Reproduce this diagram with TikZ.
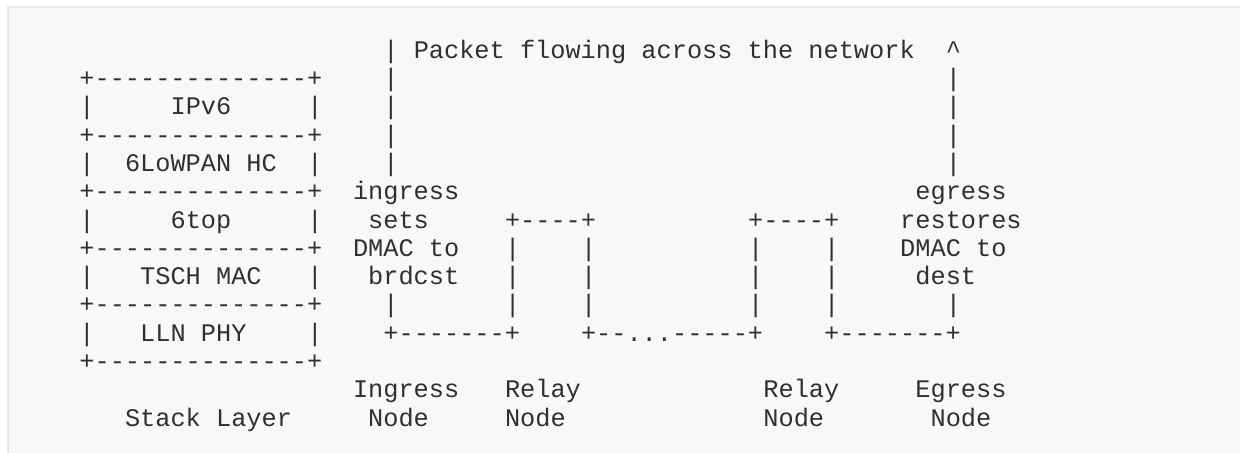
\documentclass[tikz,border=0pt]{standalone}
\usepackage{fontspec}
\setmonofont{Liberation Mono}
\definecolor{inkgray}{HTML}{303030}
\definecolor{panelfill}{HTML}{F8F8F8}
\definecolor{panelline}{HTML}{E8E8E8}
\newcommand{\seg}[4]{\node[asciitxt] (#1) at ({79.4+15.2*#2},{58.3+28.3*#3}) {#4};}
\begin{document}
\begin{tikzpicture}[x=0.5pt,y=-0.5pt,
  asciitxt/.style={anchor=base west,inner sep=0pt,outer sep=0pt,text=inkgray,
    font=\ttfamily\fontsize{12.65pt}{14pt}\selectfont}]
\useasboundingbox (0,0) rectangle (1240,453);
\fill[panelfill] (7,6) rectangle (1240,453);
\draw[panelline,line width=1pt] (8,453) -- (8,7) -- (1240,7);
% row 0
\seg{r0a}{20}{0}{| Packet flowing across the network}
\seg{r0b}{57}{0}{\textasciicircum}
% row 1
\seg{b1}{0}{1}{+--------------+}
\seg{r1a}{20}{1}{|}
\seg{r1b}{57}{1}{|}
% row 2
\seg{l2}{0}{2}{|}
\seg{ipv6}{6}{2}{IPv6}
\seg{rr2}{15}{2}{|}
\seg{r2a}{20}{2}{|}
\seg{r2b}{57}{2}{|}
% row 3
\seg{b3}{0}{3}{+--------------+}
\seg{r3a}{20}{3}{|}
\seg{r3b}{57}{3}{|}
% row 4
\seg{l4}{0}{4}{|}
\seg{lowpan}{3}{4}{6LoWPAN HC}
\seg{rr4}{15}{4}{|}
\seg{r4a}{20}{4}{|}
\seg{r4b}{57}{4}{|}
% row 5
\seg{b5}{0}{5}{+--------------+}
\seg{ingr}{18}{5}{ingress}
\seg{egr}{55}{5}{egress}
% row 6
\seg{l6}{0}{6}{|}
\seg{sixtop}{6}{6}{6top}
\seg{rr6}{15}{6}{|}
\seg{sets}{19}{6}{sets}
\seg{relayAtop}{28}{6}{+----+}
\seg{relayBtop}{44}{6}{+----+}
\seg{restores}{54}{6}{restores}
% row 7
\seg{b7}{0}{7}{+--------------+}
\seg{dmacA}{18}{7}{DMAC to}
\seg{r7a}{28}{7}{|}
\seg{r7b}{33}{7}{|}
\seg{r7c}{44}{7}{|}
\seg{r7d}{49}{7}{|}
\seg{dmacB}{54}{7}{DMAC to}
% row 8
\seg{l8}{0}{8}{|}
\seg{tsch}{4}{8}{TSCH MAC}
\seg{rr8}{15}{8}{|}
\seg{brdcst}{19}{8}{brdcst}
\seg{r8a}{28}{8}{|}
\seg{r8b}{33}{8}{|}
\seg{r8c}{44}{8}{|}
\seg{r8d}{49}{8}{|}
\seg{dest}{55}{8}{dest}
% row 9
\seg{b9}{0}{9}{+--------------+}
\seg{r9a}{20}{9}{|}
\seg{r9b}{28}{9}{|}
\seg{r9c}{33}{9}{|}
\seg{r9d}{44}{9}{|}
\seg{r9e}{49}{9}{|}
\seg{r9f}{57}{9}{|}
% row 10
\seg{l10}{0}{10}{|}
\seg{phy}{4}{10}{LLN PHY}
\seg{rr10}{15}{10}{|}
\seg{linkA}{20}{10}{+-------+}
\seg{linkB}{33}{10}{+--...-----+}
\seg{linkC}{49}{10}{+-------+}
% row 11
\seg{b11}{0}{11}{+--------------+}
% row 12
\seg{lIngress}{18}{12}{Ingress}
\seg{lRelayA}{28}{12}{Relay}
\seg{lRelayB}{45}{12}{Relay}
\seg{lEgress}{55}{12}{Egress}
% row 13
\seg{lStack}{3}{13}{Stack Layer}
\seg{nodeA}{19}{13}{Node}
\seg{nodeB}{28}{13}{Node}
\seg{nodeC}{45}{13}{Node}
\seg{nodeD}{56}{13}{Node}
\end{tikzpicture}
\end{document}
